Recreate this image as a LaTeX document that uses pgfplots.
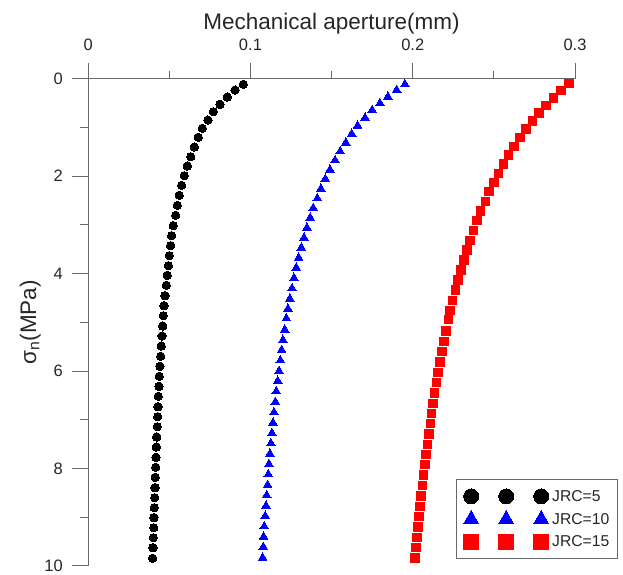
\documentclass[border=0pt]{standalone}
\usepackage{fontspec}
\setmainfont{Liberation Sans}
\usepackage{pgfplots}
\pgfplotsset{compat=1.18}
\usepackage{pgfplotstable}

\definecolor{axgray}{RGB}{105,105,105}

% JRC=5
\pgfplotstableread{
x y
0.0956 0.113
0.0905 0.230
0.0857 0.374
0.0812 0.524
0.0771 0.676
0.0738 0.846
0.0703 1.016
0.0678 1.201
0.0654 1.400
0.0632 1.600
0.0611 1.791
0.0592 1.990
0.0576 2.187
0.0561 2.392
0.0549 2.598
0.0539 2.803
0.0524 3.016
0.0514 3.222
0.0508 3.427
0.0500 3.632
0.0494 3.838
0.0487 4.035
0.0481 4.240
0.0473 4.454
0.0467 4.659
0.0463 4.864
0.0459 5.076
0.0455 5.281
0.0450 5.487
0.0447 5.698
0.0442 5.903
0.0438 6.109
0.0436 6.314
0.0432 6.520
0.0430 6.733
0.0428 6.938
0.0426 7.144
0.0422 7.355
0.0420 7.561
0.0418 7.772
0.0416 7.977
0.0413 8.183
0.0412 8.396
0.0410 8.602
0.0407 8.807
0.0405 9.012
0.0404 9.218
0.0401 9.423
0.0399 9.628
0.0397 9.846
}\jrcfive

% JRC=10
\pgfplotstableread{
x y
0.1952 0.113
0.1901 0.230
0.1847 0.367
0.1798 0.503
0.1750 0.641
0.1706 0.799
0.1660 0.963
0.1624 1.133
0.1588 1.312
0.1553 1.489
0.1521 1.674
0.1490 1.866
0.1461 2.057
0.1434 2.257
0.1412 2.454
0.1387 2.653
0.1368 2.852
0.1348 3.057
0.1330 3.263
0.1313 3.468
0.1297 3.674
0.1282 3.879
0.1268 4.090
0.1256 4.302
0.1243 4.515
0.1231 4.721
0.1221 4.918
0.1211 5.152
0.1200 5.363
0.1192 5.569
0.1184 5.780
0.1176 6.000
0.1168 6.205
0.1159 6.417
0.1153 6.637
0.1145 6.848
0.1139 7.062
0.1132 7.273
0.1126 7.485
0.1120 7.698
0.1114 7.910
0.1110 8.121
0.1106 8.341
0.1100 8.552
0.1096 8.766
0.1091 8.977
0.1085 9.189
0.1081 9.402
0.1079 9.614
0.1075 9.834
}\jrcten

% JRC=15
\pgfplotstableread{
x y
0.2962 0.092
0.2915 0.244
0.2868 0.394
0.2821 0.544
0.2779 0.702
0.2739 0.867
0.2697 1.031
0.2661 1.209
0.2625 1.386
0.2591 1.565
0.2560 1.749
0.2527 1.940
0.2500 2.125
0.2470 2.318
0.2447 2.515
0.2418 2.715
0.2397 2.914
0.2373 3.111
0.2352 3.316
0.2334 3.515
0.2315 3.721
0.2297 3.926
0.2280 4.131
0.2264 4.337
0.2246 4.548
0.2229 4.754
0.2219 4.938
0.2205 5.179
0.2192 5.390
0.2180 5.604
0.2169 5.815
0.2157 6.027
0.2147 6.240
0.2135 6.452
0.2124 6.663
0.2116 6.869
0.2110 7.082
0.2100 7.294
0.2092 7.505
0.2083 7.710
0.2075 7.924
0.2067 8.136
0.2061 8.347
0.2052 8.567
0.2044 8.778
0.2038 8.992
0.2032 9.203
0.2026 9.415
0.2020 9.628
0.2015 9.840
}\jrcfifteen

\begin{document}
\begin{tikzpicture}
\useasboundingbox (-88.2pt,-8.2pt) rectangle (534.8pt,565.8pt);
\begin{axis}[
  at={(0,0)}, anchor=south west,
  scale only axis,
  width=486.8pt, height=487pt,
  xmin=0, xmax=0.3, ymin=0, ymax=10,
  y dir=reverse,
  axis x line*=top, axis y line*=left,
  axis line style={axgray, line width=1pt},
  every tick/.style={axgray, line width=1pt},
  % ticks point outward: inside alignment with negative length keeps labels where we put them
  tick align=inside,
  major tick length=-16pt, minor tick length=-8pt,
  xtick={0,0.1,0.2,0.3}, minor xtick={0.05,0.15,0.25},
  ytick={0,2,4,6,8,10}, minor ytick={1,3,5,7,9},
  xticklabels={0,0.1,0.2,0.3},
  /pgf/number format/assume math mode=true,
  ticklabel style={font=\fontsize{16.5}{19}\selectfont, text=black!85, inner sep=0pt},
  xticklabel style={anchor=base, yshift=28pt},
  yticklabel style={anchor=east, xshift=-25.2pt},
  xlabel={Mechanical aperture(mm)},
  ylabel={σ\textsubscript{n}(MPa)},
  label style={font=\fontsize{22.5}{26}\selectfont, text=black!85},
  xlabel style={at={(axis description cs:0.5,1)}, anchor=base, yshift=49pt},
  ylabel style={at={([xshift=-52pt]axis description cs:0,0.5)}, anchor=base, rotate=0},
  legend style={at={(1.088,0.013)}, anchor=south east,
    draw=axgray, line width=1pt, fill=white,
    font=\fontsize{15.7}{18}\selectfont, text=black!85,
    row sep=6pt, inner xsep=6pt, inner ysep=9pt},
  legend cell align=left,
  legend image code/.code={%
    \path[draw=none, fill=none] (-9pt,0pt) -- (79pt,0pt);
    \draw[#1] plot coordinates {(0pt,0pt) (35pt,0pt) (70pt,0pt)};},
]
\addplot[only marks, mark=*, black, mark size=4.2pt, mark options={line width=0pt},
  legend image post style={mark size=7.5pt}] table {\jrcfive};
\addlegendentry{JRC=5}
\addplot[only marks, mark=triangle*, blue, mark size=5pt, mark options={line width=0pt},
  legend image post style={mark size=8.7pt}] table {\jrcten};
\addlegendentry{JRC=10}
\addplot[only marks, mark=square*, red, mark size=4.25pt, mark options={line width=0pt},
  legend image post style={mark size=7.3pt}] table {\jrcfifteen};
\addlegendentry{JRC=15}
\end{axis}
\end{tikzpicture}
\end{document}
